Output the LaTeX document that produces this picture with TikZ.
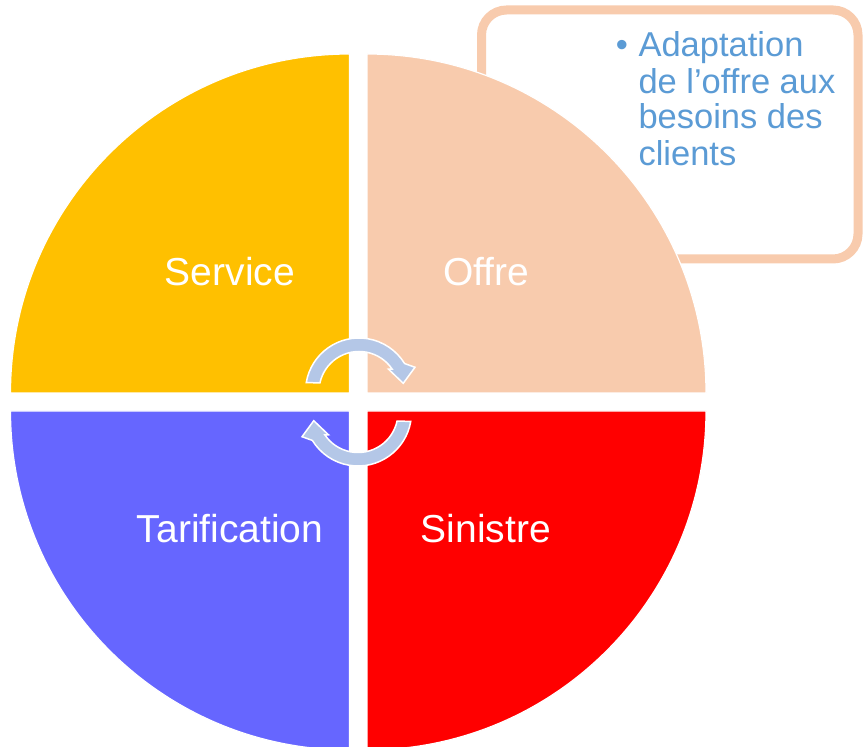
\documentclass[tikz,border=0pt]{standalone}
\usepackage{fontspec}
\setmainfont{Liberation Sans}
\definecolor{service}{HTML}{FFC000}
\definecolor{offre}{HTML}{F8CBAD}
\definecolor{tarif}{HTML}{6666FF}
\definecolor{sinistre}{HTML}{FF0000}
\definecolor{notetext}{HTML}{5B9BD5}
\definecolor{arrowfill}{HTML}{B4C7E7}
\begin{document}
\begin{tikzpicture}[x=1pt,y=1pt,
  quad/.style={draw=white, line width=1.2pt},
  qlabel/.style={text=white, font=\fontsize{39}{39}\selectfont, anchor=base, inner sep=0pt},
  note/.style={text=notetext, font=\fontsize{34.5}{36}\selectfont, anchor=base west, inner sep=0pt},
  callout/.style={draw=offre, line width=9pt, fill=white, rounded corners=25pt},
  cyclearrow/.style={fill=arrowfill, draw=white, line width=1.5pt, line join=miter}]
\useasboundingbox (0,0) rectangle (863,747);

% note box behind the upper right quarter
\draw[callout] (481.5,488) rectangle (858,737);

% the four quarters
\filldraw[quad, fill=service] (349.5,354) -- (10.5,354) arc[start angle=180, end angle=90, radius=339] -- cycle;
\filldraw[quad, fill=offre] (367,354) -- (706,354) arc[start angle=0, end angle=90, radius=339] -- cycle;
\filldraw[quad, fill=tarif] (349.5,336) -- (10.5,336) arc[start angle=180, end angle=270, radius=339] -- cycle;
\filldraw[quad, fill=sinistre] (367,336) -- (706,336) arc[start angle=0, end angle=-90, radius=339] -- cycle;

% quarter labels
\node[qlabel] (service) at (230,461) {Service};
\node[qlabel] (offre) at (486,461) {Offre};
\node[qlabel] (tarification) at (230,204) {Tarification};
\node[qlabel] (sinistre) at (486,204) {Sinistre};

% note text
\node[note, anchor=base] (bullet) at (622,690.3) {•};
\node[note] (line1) at (638.3,690.3) {Adaptation};
\node[note] (line2) at (638.3,653.7) {de l’offre aux};
\node[note] (line3) at (638.3,618) {besoins des};
\node[note] (line4) at (638.3,581.3) {clients};

% circular arrows in the middle
\begin{scope}[shift={(359,355.5)}]
  \filldraw[cyclearrow] (170.5:53.5) arc[start angle=170.5, end angle=31.5, radius=53.5]
    -- (23.4:61) -- (10.5:45) -- (37:37) -- (34:40)
    arc[start angle=34, end angle=167.5, radius=40] -- cycle;
\end{scope}
\begin{scope}[shift={(358,334.5)}, rotate=180]
  \filldraw[cyclearrow] (170.5:53.5) arc[start angle=170.5, end angle=31.5, radius=53.5]
    -- (23.4:61) -- (10.5:45) -- (37:37) -- (34:40)
    arc[start angle=34, end angle=167.5, radius=40] -- cycle;
\end{scope}
\end{tikzpicture}
\end{document}
